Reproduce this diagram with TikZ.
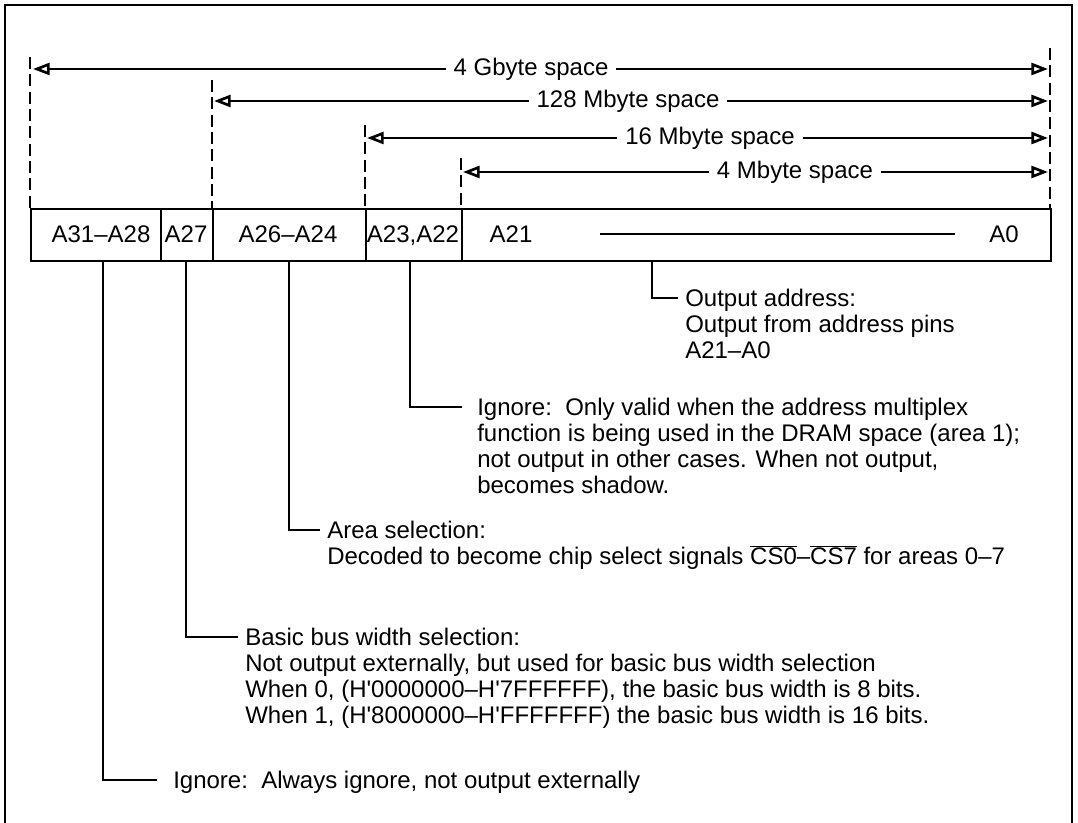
\documentclass[tikz,border=0pt]{standalone}
\usepackage{fontspec}
\setmainfont{Liberation Sans}
\usetikzlibrary{arrows.meta}
\begin{document}
\begin{tikzpicture}[x=0.75pt,y=-0.75pt,
  every node/.style={font=\fontsize{18}{19.5}\selectfont, inner sep=0pt},
  frame/.style={line width=1.5pt},
  tipA/.tip={Triangle[open,length=12.5pt,width=9pt,line width=2pt]},
  dim/.style={line width=1.1pt, tipA-tipA},
  guide/.style={line width=1.1pt, dash pattern=on 9pt off 4pt},
  cell/.style={draw, line width=1.4pt, minimum height=39pt, anchor=north west},
  lead/.style={line width=1pt},
  lbl/.style={anchor=north west, align=left},
  reg/.style={anchor=base},
  spacelbl/.style={fill=white, inner xsep=6pt, inner ysep=2pt}
]
\useasboundingbox (0,0) rectangle (1078,823);
% outer frame (open at the bottom)
\draw[frame] (5,830) -- (5,5) -- (1072,5) -- (1072,830);

% register cells
\node[cell, minimum width=97.5pt]  (c1) at (30,208)  {};
\node[cell, minimum width=39pt]    (c2) at (160,208) {};
\node[cell, minimum width=114.75pt](c3) at (212,208) {};
\node[cell, minimum width=72pt]    (c4) at (365,208) {};
\node[cell, minimum width=441.75pt](c5) at (461,208) {};

\node[reg] (t1) at (101,243) {A31–A28};
\node[reg] (t2) at (186,243) {A27};
\node[reg] (t3) at (288,243) {A26–A24};
\node[reg] (t4) at (413,243) {A23,A22};
\node[reg] (t5) at (511,243) {A21};
\node[reg] (t6) at (1004,243) {A0};
\coordinate (r1) at (600,234);
\coordinate (r2) at (955,234);
\draw[lead] (r1) -- (r2);

% dashed guides
\coordinate (g1t) at (30,57);   \coordinate (g1b) at (30,208);
\coordinate (g2t) at (212,80);  \coordinate (g2b) at (212,208);
\coordinate (g3t) at (365,125); \coordinate (g3b) at (365,208);
\coordinate (g4t) at (461,158); \coordinate (g4b) at (461,208);
\coordinate (g5t) at (1050,48); \coordinate (g5b) at (1050,208);
\foreach \g in {1,...,5} \draw[guide] (g\g t) -- (g\g b);

% dimension arrows
\coordinate (a1l) at (33,69);   \coordinate (a1r) at (1048,69);
\coordinate (a2l) at (214,101); \coordinate (a2r) at (1048,101);
\coordinate (a3l) at (367,138); \coordinate (a3r) at (1048,138);
\coordinate (a4l) at (463,172); \coordinate (a4r) at (1048,172);
\foreach \a in {1,...,4} \draw[dim] (a\a l) -- (a\a r);
\node[spacelbl] (s1) at (531,69)  {4 Gbyte space};
\node[spacelbl] (s2) at (628,101) {128 Mbyte space};
\node[spacelbl] (s3) at (710,138) {16 Mbyte space};
\node[spacelbl] (s4) at (795,172) {4 Mbyte space};

% leader lines and descriptions
\node[lbl] (d5) at (685,289) {Output address:\\Output from address pins\\A21–A0};
\coordinate (p5) at (652,260); \coordinate (q5) at (678,298);
\draw[lead] (p5) |- (q5);

\node[lbl] (d4) at (477,398) {Ignore:\ \ Only valid when the address multiplex\\function is being used in the DRAM space (area 1);\\not output in other cases. When not output,\\becomes shadow.};
\coordinate (p4) at (410,260); \coordinate (q4) at (462,407);
\draw[lead] (p4) |- (q4);

\node[lbl] (d3) at (327,521) {Area selection:\\Decoded to become chip select signals $\overline{\mbox{CS0}}$–$\overline{\mbox{CS7}}$ for areas 0–7};
\coordinate (p3) at (289,260); \coordinate (q3) at (320,530);
\draw[lead] (p3) |- (q3);

\node[lbl] (d2) at (245,628) {Basic bus width selection:\\Not output externally, but used for basic bus width selection\\When 0, (H\textquotesingle 0000000–H\textquotesingle 7FFFFFF), the basic bus width is 8 bits.\\When 1, (H\textquotesingle 8000000–H\textquotesingle FFFFFFF) the basic bus width is 16 bits.};
\coordinate (p2) at (186,260); \coordinate (q2) at (238,637);
\draw[lead] (p2) |- (q2);

\node[lbl] (d1) at (173,771) {Ignore:\ \ Always ignore, not output externally};
\coordinate (p1) at (103,260); \coordinate (q1) at (157,780);
\draw[lead] (p1) |- (q1);
\end{tikzpicture}
\end{document}
